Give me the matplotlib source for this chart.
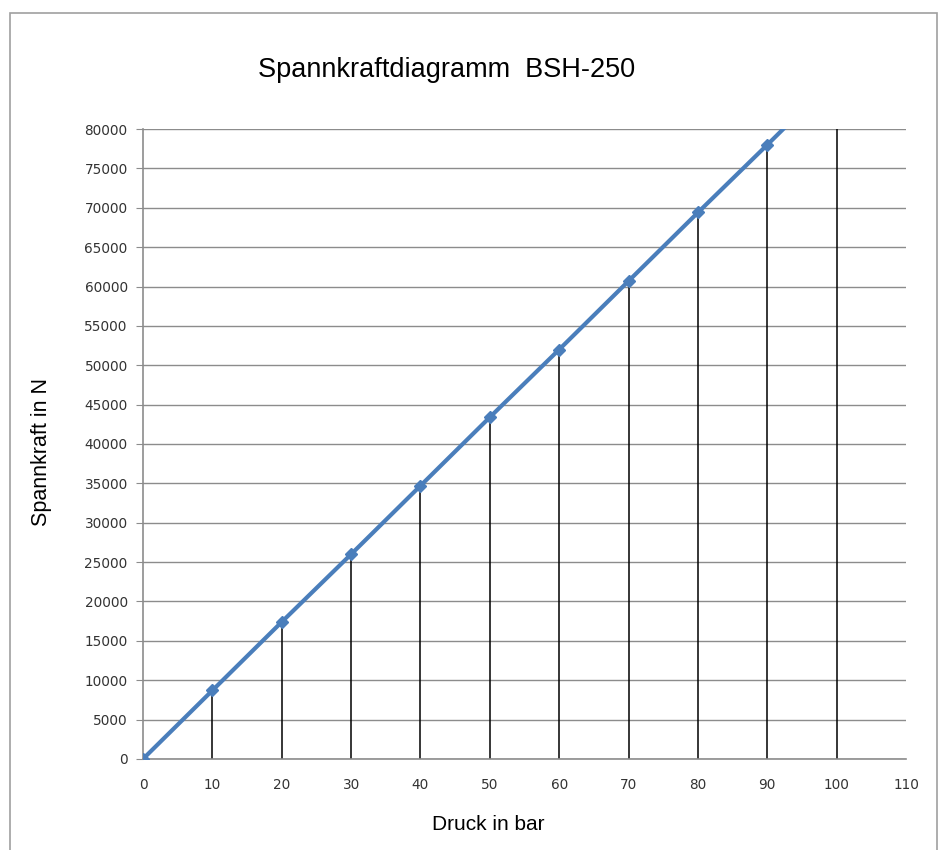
import matplotlib.pyplot as plt
from matplotlib.patches import Rectangle

# Druck (bar) und Spannkraft (N)
druck = [0, 10, 20, 30, 40, 50, 60, 70, 80, 90, 100]
spannkraft = [0, 8700, 17400, 26000, 34700, 43400, 52000, 60700, 69400, 78000, 86700]

x_ticks = list(range(0, 111, 10))
y_ticks = list(range(0, 80001, 5000))

fig = plt.figure(figsize=(9.39, 8.5), dpi=100)
ax = fig.add_axes([0.1523, 0.1071, 0.8126, 0.7411])

# outer chart border
fig.patches.append(Rectangle((10 / 939, -0.01), 927 / 939, 1 - 13 / 850 + 0.01,
                             transform=fig.transFigure, fill=False,
                             edgecolor='#a0a0a0', linewidth=1.2))

# drop lines
ax.vlines(druck[1:], 0, spannkraft[1:], colors='black', linewidth=1.1, zorder=2)

ax.plot(druck, spannkraft, color='#4a7ebb', linewidth=3, marker='D',
        markersize=6, zorder=3)

ax.set_xlim(0, 110)
ax.set_ylim(0, 80000)
ax.set_xticks(x_ticks)
ax.set_yticks(y_ticks)
ax.yaxis.grid(True, color='#8c8c8c', linewidth=1)
ax.set_axisbelow(True)

for s in ['top', 'right']:
    ax.spines[s].set_visible(False)
for s in ['left', 'bottom']:
    ax.spines[s].set_color('#8c8c8c')
    ax.spines[s].set_linewidth(1.2)

ax.tick_params(axis='y', length=5, color='#8c8c8c', labelsize=9.8, pad=6,
               labelcolor='#333333')
ax.tick_params(axis='x', length=0, labelsize=9.8, pad=14, labelcolor='#333333')

fig.text(447 / 939, 1 - 70 / 850, 'Spannkraftdiagramm  BSH-250', fontsize=19.5,
         family='Liberation Sans', ha='center', va='center')
fig.text(488 / 939, 1 - 824 / 850, 'Druck in bar', fontsize=15,
         family='Liberation Sans', ha='center', va='center')
fig.text(42 / 939, 1 - 452 / 850, 'Spannkraft in N', fontsize=15.5,
         family='Liberation Sans', ha='center', va='center', rotation=90)

fig.savefig('out.png', dpi=100)
